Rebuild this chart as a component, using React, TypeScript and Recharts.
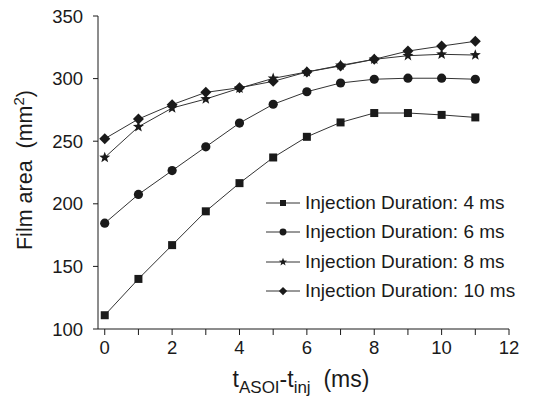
import React from 'react';
import { LineChart, Line, XAxis, YAxis, Legend } from 'recharts';

// x positions (ms) and film area series (mm^2)
const tValues = [0, 1, 2, 3, 4, 5, 6, 7, 8, 9, 10, 11];
const area4ms = [111, 140, 167, 194, 216.5, 237, 253.5, 265, 272.5, 272.5, 271, 269];
const area6ms = [184.5, 207.5, 226.5, 245.5, 264.5, 279.5, 289.5, 296.5, 299.5, 300.3, 300.3, 299.5];
const area8ms = [237, 261.5, 276.5, 283.7, 292.3, 300.2, 305.3, 310.6, 315.4, 318.3, 319.4, 318.8];
const area10ms = [252, 267.7, 279.2, 289, 292.7, 297.8, 305.3, 310.1, 315.4, 322, 326, 329.8];

const xTicks = [0, 1, 2, 3, 4, 5, 6, 7, 8, 9, 10, 11, 12];
const yTicks = [100, 150, 200, 250, 300, 350];
const seriesNames = [
    'Injection Duration: 4 ms',
    'Injection Duration: 6 ms',
    'Injection Duration: 8 ms',
    'Injection Duration: 10 ms',
];

const ink = '#1a1a1a';
const lineColor = '#333';
const font = '"Liberation Sans", Arial, sans-serif';

const data = tValues.map((t, i) => ({
    t,
    d4: area4ms[i],
    d6: area6ms[i],
    d8: area8ms[i],
    d10: area10ms[i],
}));

const Marker = ({ kind, cx, cy, s = 1 }: { kind: string; cx: number; cy: number; s?: number }) => {
    if (kind === 'square') return <rect x={cx - 4 * s} y={cy - 4 * s} width={8 * s} height={8 * s} fill={ink} />;
    if (kind === 'circle') return <circle cx={cx} cy={cy} r={4.6 * s} fill={ink} />;
    if (kind === 'diamond') {
        const d = 5.5 * s;
        return <polygon points={`${cx},${cy - d} ${cx + d},${cy} ${cx},${cy + d} ${cx - d},${cy}`} fill={ink} />;
    }
    // star
    const pts: string[] = [];
    for (let k = 0; k < 10; k++) {
        const r = (k % 2 === 0 ? 5.8 : 2.4) * s;
        const a = -Math.PI / 2 + (k * Math.PI) / 5;
        pts.push(`${cx + r * Math.cos(a)},${cy + r * Math.sin(a)}`);
    }
    return <polygon points={pts.join(' ')} fill={ink} />;
};

const dotFor = (kind: string) => (props: any) => (
    <Marker key={`${kind}-${props.index}`} kind={kind} cx={props.cx} cy={props.cy} />
);

const markerKinds = ['square', 'circle', 'star', 'diamond'];

const renderLegend = () => (
    <div style={{ fontFamily: font, fontSize: 19, color: ink }}>
        {seriesNames.map((name, i) => (
            <div key={name} style={{ display: 'flex', alignItems: 'center', height: 29.5 }}>
                <svg width={36} height={14} style={{ marginRight: 4 }}>
                    <line x1={1} y1={7} x2={35} y2={7} stroke={lineColor} strokeWidth={1} />
                    <Marker kind={markerKinds[i]} cx={18} cy={7} s={0.75} />
                </svg>
                <span>{name}</span>
            </div>
        ))}
    </div>
);

const yLabel = () => {
    const cy = 170;
    return (
        <text x={32} y={cy} transform={`rotate(-90, 32, ${cy})`} textAnchor="middle" fontFamily={font} fontSize={21.5} fill={ink}>
            {'Film area\u00a0\u00a0(mm'}<tspan dy={-8} fontSize={15}>2</tspan><tspan dy={8}>)</tspan>
        </text>
    );
};

const xLabel = () => (
    <text x={301} y={387} textAnchor="middle" fontFamily={font} fontSize={23} fill={ink}>
        t<tspan dy={6} fontSize={17}>ASOI</tspan>
        <tspan dy={-6}>-t</tspan>
        <tspan dy={6} fontSize={17}>inj</tspan>
        <tspan dy={-6}>{'\u00a0\u00a0(ms)'}</tspan>
    </text>
);

export default function App() {
    return (
        <div style={{ position: 'absolute', left: 0, top: 0, width: 542, height: 403, background: '#fff' }}>
            <LineChart width={542} height={403} data={data} margin={{ top: 16, right: 33, bottom: 34, left: 38 }}>
                <XAxis
                    dataKey="t"
                    type="number"
                    domain={[-0.2, 12]}
                    ticks={xTicks}
                    tickFormatter={(v: number) => (v % 2 === 0 ? String(v) : '')}
                    interval={0}
                    height={40}
                    stroke={ink}
                    tickSize={6}
                    tick={{ fill: ink, fontSize: 18.5, fontFamily: font, dy: 4 }}
                    label={xLabel}
                />
                <YAxis
                    type="number"
                    domain={[100, 350]}
                    ticks={yTicks}
                    width={60}
                    stroke={ink}
                    tickSize={5}
                    tick={{ fill: ink, fontSize: 18.5, fontFamily: font, dx: -8 }}
                    label={yLabel}
                />
                <Legend
                    layout="vertical"
                    verticalAlign="middle"
                    align="center"
                    content={renderLegend}
                    wrapperStyle={{ position: 'absolute', left: 265, top: 188, width: 270 }}
                />
                <Line dataKey="d4" name={seriesNames[0]} stroke={lineColor} strokeWidth={1} dot={dotFor('square')} isAnimationActive={false} />
                <Line dataKey="d6" name={seriesNames[1]} stroke={lineColor} strokeWidth={1} dot={dotFor('circle')} isAnimationActive={false} />
                <Line dataKey="d8" name={seriesNames[2]} stroke={lineColor} strokeWidth={1} dot={dotFor('star')} isAnimationActive={false} />
                <Line dataKey="d10" name={seriesNames[3]} stroke={lineColor} strokeWidth={1} dot={dotFor('diamond')} isAnimationActive={false} />
            </LineChart>
        </div>
    );
}
